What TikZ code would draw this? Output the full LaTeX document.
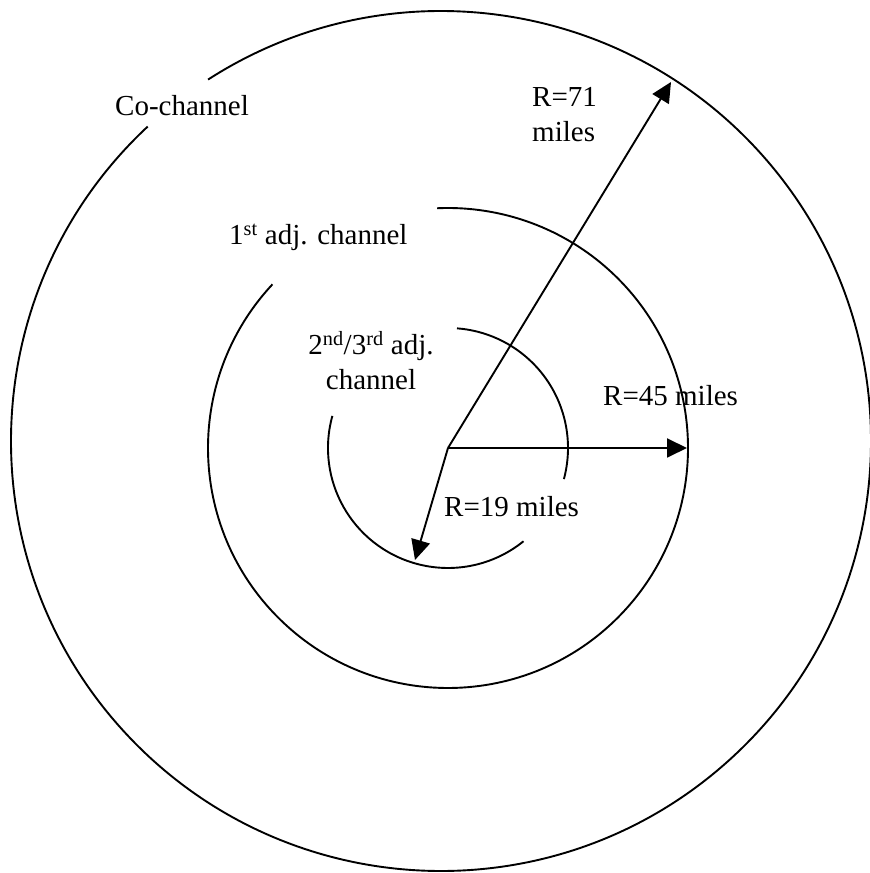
\documentclass[tikz,border=0pt]{standalone}
\usepackage{fontspec}
\setmainfont{Liberation Serif}
\usetikzlibrary{arrows.meta}

\begin{document}
\begin{tikzpicture}[x=1pt, y=1pt, >={Triangle[length=20pt,width=19pt]},
  ring/.style={line width=1.9pt},
  reach/.style={->, line width=1.9pt},
  lbl/.style={inner sep=0pt, anchor=base west, font=\fontsize{29}{35}\selectfont}]
  \useasboundingbox (0,0) rectangle (870,873);

  % centres of the rings
  \coordinate (ctr) at (448,425);
  \coordinate (outc) at (441,432);

  % rings, each one open where its label sits
  \draw[ring] (outc) ++(133:430pt) arc[start angle=133, end angle=482.8, radius=430pt];
  \draw[ring] (ctr) ++(137:240pt) arc[start angle=137, end angle=452.6, radius=240pt];
  \draw[ring] (ctr) ++(164.5:120pt) arc[start angle=164.5, end angle=309, radius=120pt];
  \draw[ring] (ctr) ++(-15:120pt) arc[start angle=-15, end angle=85.7, radius=120pt];

  % radii
  \coordinate (tip71) at (671,791);
  \coordinate (tip45) at (687,425);
  \coordinate (tip19) at (415,313);
  \draw[reach] (ctr) -- (tip71);
  \draw[reach] (ctr) -- (tip45);
  \draw[reach] (ctr) -- (tip19);

  \node[lbl] (co) at (115,757) {Co-channel};
  \node[lbl] (adjA) at (229,628) {1\textsuperscript{st} adj. channel};
  \node[lbl, align=center, anchor=base] (adjB) at (371,483) {2\textsuperscript{nd}/3\textsuperscript{rd} adj.\\channel};
  \node[lbl, align=left] (rA) at (532,731) {R=71\\miles};
  \node[lbl] (rB) at (603,467) {R=45 miles};
  \node[lbl] (rC) at (444,356) {R=19 miles};
\end{tikzpicture}
\end{document}
